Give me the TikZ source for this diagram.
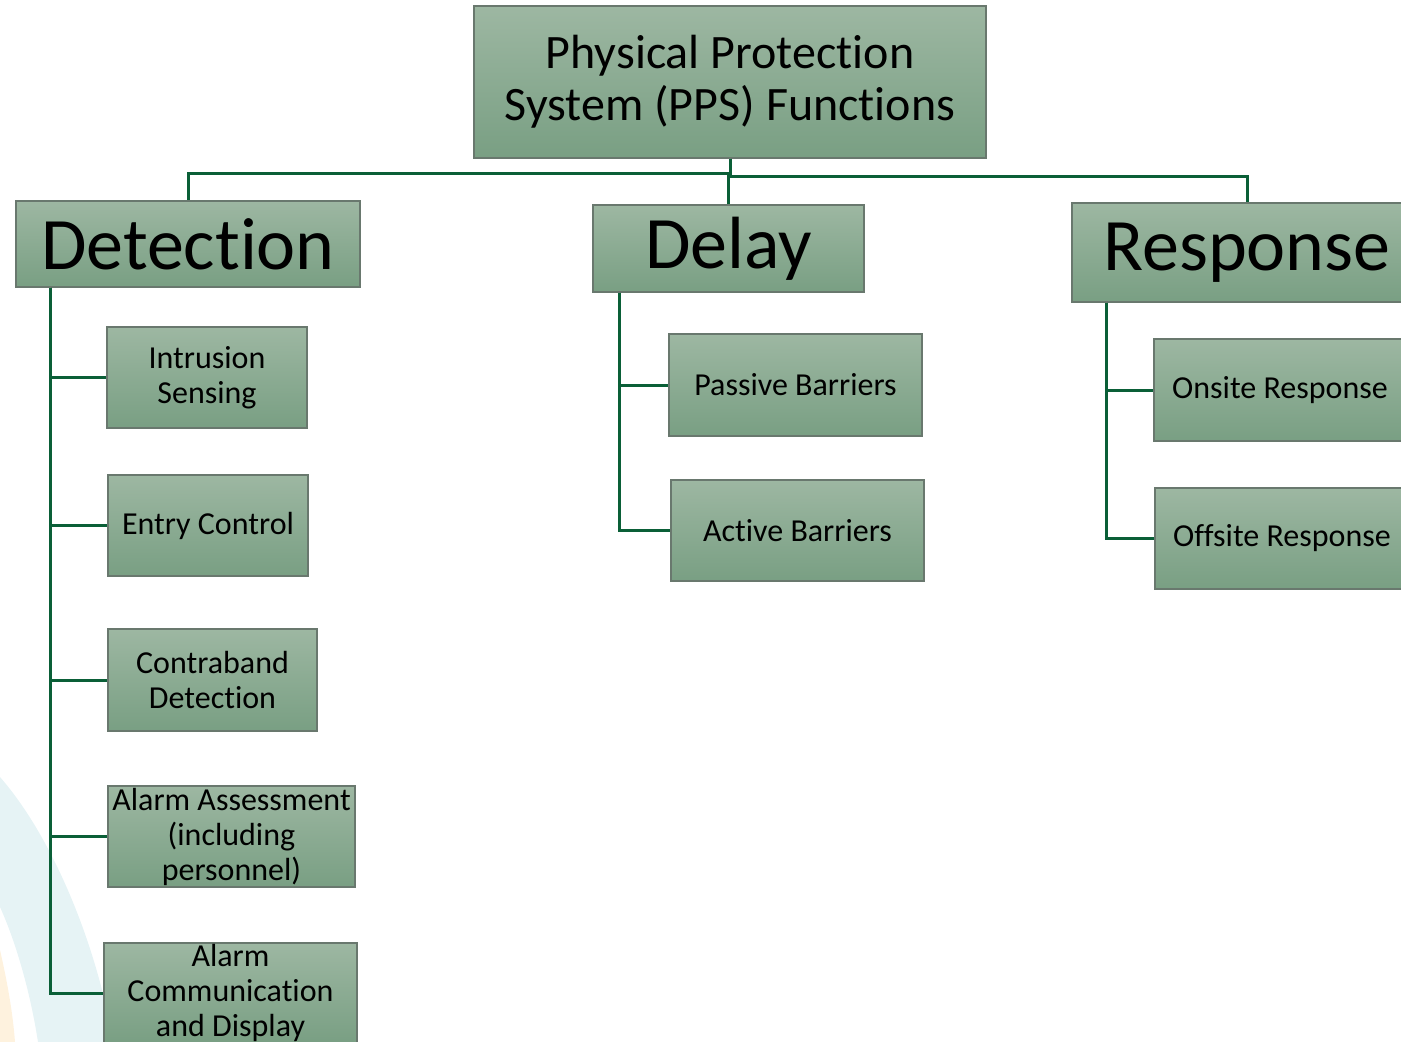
\documentclass[tikz,border=0pt]{standalone}
\usepackage{fontspec}
\setmainfont{Carlito}[Ligatures={NoCommon}]
\definecolor{boxtop}{RGB}{157,183,162}
\definecolor{boxbot}{RGB}{121,159,131}
\definecolor{boxedge}{RGB}{105,120,110}
\definecolor{conngreen}{RGB}{10,95,55}
\definecolor{bgblue}{RGB}{230,243,245}
\definecolor{bgorange}{RGB}{254,242,222}
\tikzset{
  fbox/.style={draw=boxedge, line width=1.2pt, top color=boxtop, bottom color=boxbot,
    align=center, inner sep=0pt, text=black},
  bigtxt/.style={font=\fontsize{74}{80}\selectfont},
  smalltxt/.style={font=\fontsize{32}{35}\selectfont},
  conn/.style={draw=conngreen, line width=3pt}
}
\begin{document}
\begin{tikzpicture}[x=1pt,y=-1pt]
\useasboundingbox (0,0) rectangle (1401,1042);
\clip (0,0) rectangle (1401,1042);
% background arcs
\fill[bgblue] (0,777) .. controls (55,840) and (98,950) .. (113,1042) -- (38,1042) .. controls (30,990) and (15,940) .. (0,907) -- cycle;
\fill[bgorange] (0,950) .. controls (8,985) and (13,1015) .. (15,1042) -- (0,1042) -- cycle;

% nodes
\node[fbox, minimum width=512pt, minimum height=152pt, font=\fontsize{48}{52}\selectfont] (top) at (730,82) {Physical Protection\\System (PPS) Functions};
\node[fbox, bigtxt, minimum width=344pt, minimum height=86pt] (det) at (188,244) {Detection};
\node[fbox, bigtxt, minimum width=271pt, minimum height=87pt] (del) at (728.5,248.5) {Delay};
\node[fbox, bigtxt, minimum width=350pt, minimum height=99pt] (res) at (1247,252.5) {Response};

\node[fbox, smalltxt, minimum width=200pt, minimum height=101pt] (intr) at (207,377.5) {Intrusion\\Sensing};
\node[fbox, smalltxt, minimum width=200pt, minimum height=101pt] (entry) at (208,525.5) {Entry Control};
\node[fbox, smalltxt, minimum width=209pt, minimum height=102pt] (contra) at (212.5,680) {Contraband\\Detection};
\node[fbox, smalltxt, minimum width=247pt, minimum height=101pt] (assess) at (231.5,836.5) {Alarm Assessment\\(including\\personnel)};
\node[fbox, smalltxt, minimum width=253pt, minimum height=100pt] (comm) at (230.5,993) {Alarm\\Communication\\and Display};

\node[fbox, smalltxt, minimum width=253pt, minimum height=102pt] (pass) at (795.5,385) {Passive Barriers};
\node[fbox, smalltxt, minimum width=253pt, minimum height=101pt] (act) at (797.5,530.5) {Active Barriers};

\node[fbox, smalltxt, minimum width=252pt, minimum height=102pt] (onsite) at (1280,390) {Onsite Response};
\node[fbox, smalltxt, minimum width=254pt, minimum height=101pt] (offsite) at (1282,538.5) {Offsite Response};

% connectors top level
\draw[conn] (top.south) -- ++(0,15) -| (det.north);
\draw[conn] (top.south) -- ++(0,18) -| (res.north);
\draw[conn] (del.north) |- ([yshift=-17pt]top.south);

% detection spine
\foreach \c in {intr,entry,contra,assess,comm}
  \draw[conn] ([xshift=35pt]det.south west) |- (\c.west);
% delay spine
\foreach \c in {pass,act}
  \draw[conn] ([xshift=27pt]del.south west) |- (\c.west);
% response spine
\foreach \c in {onsite,offsite}
  \draw[conn] ([xshift=35pt]res.south west) |- (\c.west);
\end{tikzpicture}
\end{document}
